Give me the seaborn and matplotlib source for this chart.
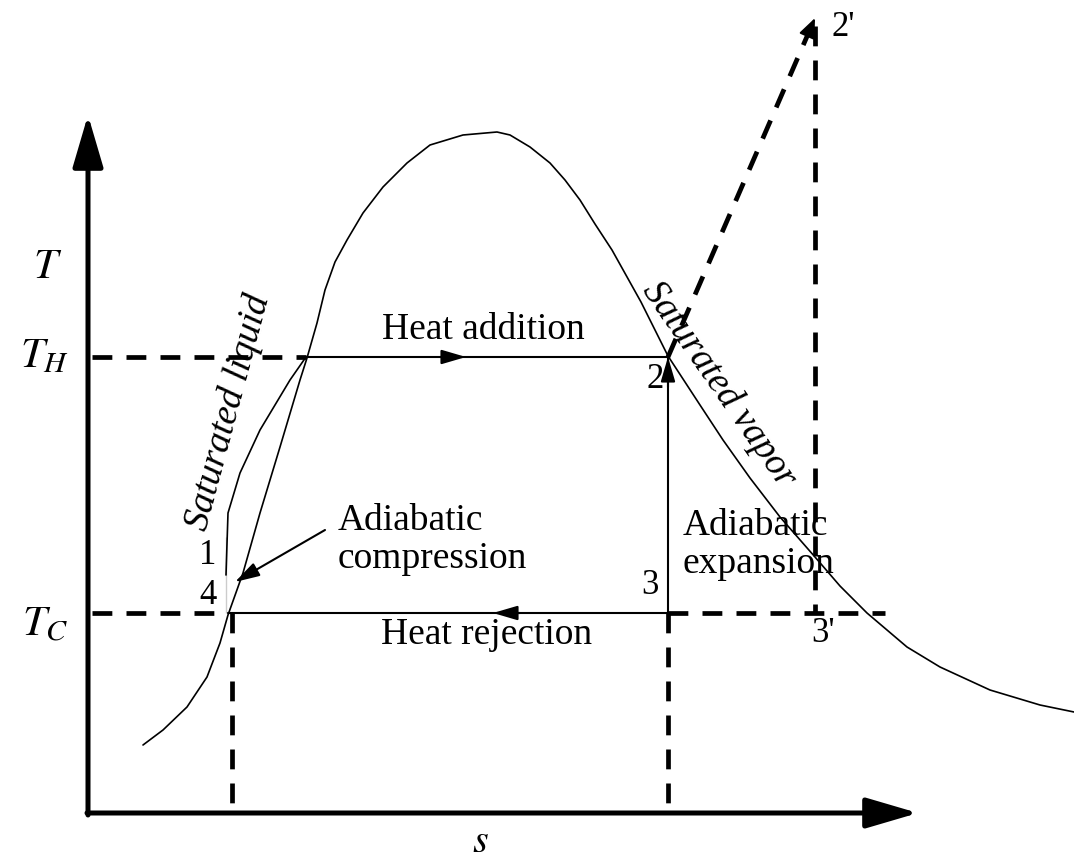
import numpy as np
import matplotlib
matplotlib.use("Agg")
import matplotlib.pyplot as plt
import seaborn as sns

# saturation dome (entropy s, temperature T)
dome_s = [143, 163, 187, 207, 220, 228, 243, 260, 280, 300, 307, 317, 325, 335,
          347, 363, 383, 407, 430, 463, 497, 510, 530, 550, 565, 580, 595, 612,
          641, 668, 700, 723, 750, 780, 815, 840, 867, 907, 940, 990, 1040, 1074]
dome_T = [120, 135, 158, 188, 222, 250, 292, 352, 418, 485, 507, 542, 575, 603,
          625, 652, 678, 702, 720, 730, 733, 730, 718, 702, 685, 665, 641, 615,
          563, 509, 460, 425, 387, 348, 308, 279, 252, 218, 198, 175, 160, 153]

# path 4 -> 1 -> saturated liquid at T_H
liq_s = [226, 226, 228, 240, 260, 290, 306]
liq_T = [252, 328, 352, 392, 435, 485, 508]

# cycle state values
T_H, T_C = 508, 252
s_4, s_f, s_2, s_2p = 228, 306, 668, 815
T_2p = 847
s_axis, T_axis = 88, 52
s_axis_end, T_axis_end = 918, 750
s_dash_end = 885

# point labels
point_labels = ["1", "4", "2", "3", "2'", "3'"]
point_s = [208, 208, 655, 650, 843, 823]
point_T = [310, 270, 485, 280, 838, 231]

sns.set_theme(style="white")
plt.rcParams["font.family"] = ["Liberation Serif", "DejaVu Serif"]
plt.rcParams["mathtext.fontset"] = "stix"
plt.rcParams["text.color"] = "black"

fig = plt.figure(figsize=(10.74, 8.65), dpi=100)
ax = fig.add_axes([0, 0, 1, 1])
ax.set_xlim(0, 1074)
ax.set_ylim(0, 865)
ax.axis("off")

# dome and liquid heating path
sns.lineplot(x=dome_s, y=dome_T, sort=False, color="black", lw=1.2, ax=ax)
sns.lineplot(x=liq_s, y=liq_T, sort=False, color="black", lw=1.2, ax=ax)

# cycle lines
solid = dict(color="black", lw=1.5)
ax.plot([s_f, s_2], [T_H, T_H], **solid)
ax.plot([s_4, s_2], [T_C, T_C], **solid)
ax.plot([s_2, s_2], [T_C, T_H], **solid)

dash = dict(color="black", lw=3.4, linestyle=(0, (4.2, 3.0)), dash_capstyle="butt")
ax.plot([s_axis + 4, s_f], [T_H, T_H], **dash)
ax.plot([s_axis + 4, s_4], [T_C, T_C], **dash)
ax.plot([s_2, s_dash_end], [T_C, T_C], **dash)
ax.plot([s_4 + 4, s_4 + 4], [T_C, T_axis], **dash)
ax.plot([s_2, s_2], [T_C, T_axis], **dash)
ax.plot([s_2p, s_2p], [T_2p - 8, T_C], **dash)
ax.plot([s_2, s_2p], [T_H, T_2p], **dash)

# axes with arrow heads
ax.annotate("", xy=(s_axis, T_axis_end), xytext=(s_axis, T_axis - 2),
            arrowprops=dict(arrowstyle="-|>,head_length=1.6,head_width=0.47",
                            color="black", lw=3.6, mutation_scale=20, shrinkA=0, shrinkB=0))
ax.annotate("", xy=(s_axis_end, T_axis), xytext=(s_axis - 1, T_axis),
            arrowprops=dict(arrowstyle="-|>,head_length=1.6,head_width=0.47",
                            color="black", lw=3.6, mutation_scale=20, shrinkA=0, shrinkB=0))

# direction arrows on the cycle
small = dict(arrowstyle="-|>,head_length=0.75,head_width=0.22", color="black",
             lw=1.5, mutation_scale=20, shrinkA=0, shrinkB=0)
ax.annotate("", xy=(466, T_H), xytext=(440, T_H), arrowprops=small)
ax.annotate("", xy=(493, T_C), xytext=(520, T_C), arrowprops=small)
ax.annotate("", xy=(s_2, T_H), xytext=(s_2, T_H - 30), arrowprops=small)
ax.annotate("", xy=(s_2p, T_2p), xytext=(s_2p - 8, T_2p - 18),
            arrowprops=dict(small, arrowstyle="-|>,head_length=0.6,head_width=0.25"))
ax.annotate("", xy=(235, 283), xytext=(325, 335), arrowprops=small)

# text
fs = 27
ax.text(48, 597, "$T$", fontsize=31, ha="center", va="center")
ax.text(45, 508, "$T_H$", fontsize=31, ha="center", va="center")
ax.text(45, 240, "$T_C$", fontsize=31, ha="center", va="center")
ax.text(480, 22, "$s$", fontsize=29, ha="center", va="center")
ax.text(483, 535, "Heat addition", fontsize=fs, ha="center", va="center")
ax.text(487, 230, "Heat rejection", fontsize=fs, ha="center", va="center")
ax.text(338, 325, "Adiabatic\ncompression", fontsize=fs, ha="left", va="center",
        linespacing=1.15)
ax.text(683, 320, "Adiabatic\nexpansion", fontsize=fs, ha="left", va="center",
        linespacing=1.15)
ax.text(228, 453, "Saturated liquid", fontsize=fs, style="italic", rotation=75,
        rotation_mode="anchor", ha="center", va="center")
ax.text(719, 481, "Saturated vapor", fontsize=fs, style="italic", rotation=-55,
        rotation_mode="anchor", ha="center", va="center")
for lab, s, t in zip(point_labels, point_s, point_T):
    ax.text(s, t, lab, fontsize=25, ha="center", va="center")

fig.savefig("out.png", dpi=100)
